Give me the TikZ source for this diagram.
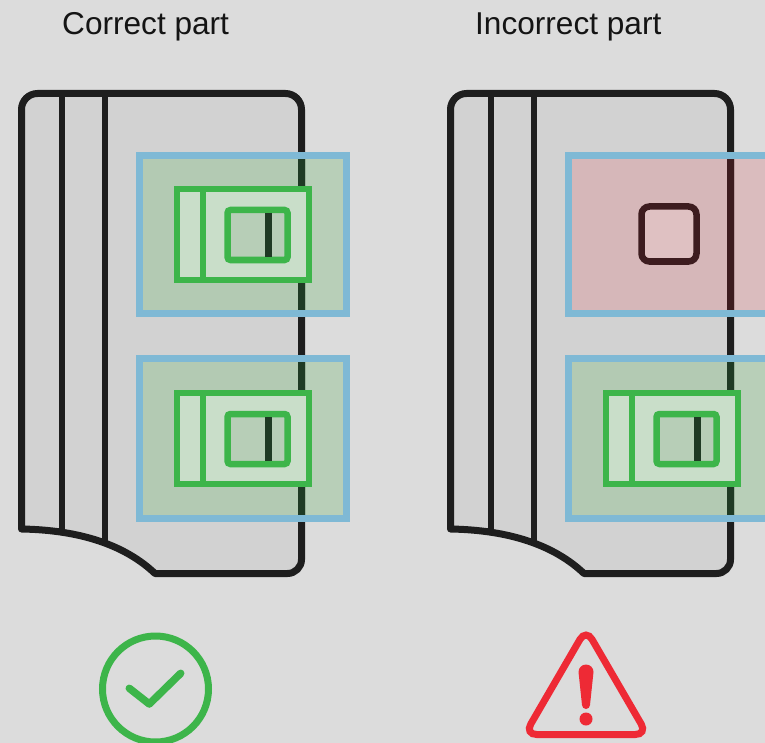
\documentclass[tikz,border=0pt]{standalone}
\usepackage{fontspec}
\setmainfont{Liberation Sans}
\definecolor{bg}{HTML}{DCDCDC}
\definecolor{bodygray}{HTML}{D2D2D2}
\definecolor{ink}{HTML}{1E1E1E}
\definecolor{zoneblue}{HTML}{7FB9D5}
\definecolor{okgreen}{HTML}{3DB54A}
\definecolor{switchfill}{HTML}{C9DEC9}
\definecolor{innerfill}{HTML}{B7CEB7}
\definecolor{darkgreen}{HTML}{1F3A24}
\definecolor{greentint}{HTML}{96C496}
\definecolor{redtint}{HTML}{DA9EA2}
\definecolor{padfill}{HTML}{DFC1C2}
\definecolor{darkred}{HTML}{3D1C1F}
\definecolor{warnred}{HTML}{EE2A35}
\tikzset{
  bodyshape/.style={insert path={
    (21.5,529) -- (21.5,109.5) arc (180:270:16) -- (285.5,93.5) arc (270:360:16)
    -- (301.5,559.5) arc (0:90:14) -- (155,573.5)
    .. controls (125,545) and (80,530) .. (21.5,529) -- cycle}},
  outline/.style={draw=ink, line width=7pt, line join=round},
  ribline/.style={draw=ink, line width=6pt},
  zonefill/.style={fill=greentint, fill opacity=.5},
  badfill/.style={fill=redtint, fill opacity=.5},
  zoneframe/.style={draw=zoneblue, line width=7pt},
  switchframe/.style={draw=okgreen, line width=6.5pt, fill=switchfill},
  switchwin/.style={draw=okgreen, line width=6.5pt, fill=innerfill, rounded corners=3pt},
  switchbar/.style={draw=darkgreen, line width=6.5pt},
  pad/.style={draw=darkred, line width=6.5pt, fill=padfill, rounded corners=8pt},
  title/.style={anchor=base west, inner sep=0pt, text=black!92,
    font=\fontsize{31.6}{38}\selectfont},
}
% housing of one part: grey body, two ribs, black outline
\newcommand\partbody{%
  \fill[bodygray, bodyshape];
  \begin{scope}
    \clip[bodyshape];
    \draw[ribline] (62,80) -- (62,600);
    \draw[ribline] (104.5,80) -- (104.5,600);
  \end{scope}
  \draw[outline, bodyshape];
}
% housing edge seen through a tinted zone (#1 top, #2 bottom, #3 colour)
\newcommand\edgethrough[3]{%
  \begin{scope}
    \clip (139.5,#1) rectangle (346.5,#2);
    \draw[outline, draw=#3, bodyshape];
  \end{scope}
}
% green switch contact, moved down by #1
\newcommand\contact[1]{%
  \begin{scope}[yshift=-#1pt]
    \draw[switchframe] (177,189) rectangle (309,280);
    \draw[draw=okgreen, line width=6.5pt] (203,189) -- (203,280);
    \draw[switchwin] (227.5,210) rectangle (287.5,260);
    \draw[switchbar] (268.5,213) -- (268.5,257);
  \end{scope}
}
\begin{document}
\begin{tikzpicture}[x=1pt,y=-1pt]
\useasboundingbox (0,0) rectangle (765,743);
\fill[bg] (0,0) rectangle (765,743);
\clip (0,0) rectangle (765,743);

\node[title] (lefttitle) at (62,34.5) {Correct part};
\node[title] (righttitle) at (475,34.5) {Incorrect part};

% ---- correct part ----
\partbody
\fill[zonefill] (139.5,155.5) rectangle (346.5,313.5);
\fill[zonefill] (139.5,358.5) rectangle (346.5,518);
\edgethrough{155.5}{313.5}{darkgreen}
\edgethrough{358.5}{518}{darkgreen}
\contact{0}
\contact{204}
\draw[zoneframe] (139.5,155.5) rectangle (346.5,313.5);
\draw[zoneframe] (139.5,358.5) rectangle (346.5,518);

% ---- incorrect part ----
\begin{scope}[xshift=429pt]
  \partbody
  \fill[badfill] (139.5,155.5) rectangle (346.5,313.5);
  \fill[zonefill] (139.5,358.5) rectangle (346.5,518);
  \edgethrough{155.5}{313.5}{darkred}
  \edgethrough{358.5}{518}{darkgreen}
  \draw[pad] (212.5,206.5) rectangle (267.5,261.5);
  \contact{204}
  \draw[zoneframe] (139.5,155.5) rectangle (346.5,313.5);
  \draw[zoneframe] (139.5,358.5) rectangle (346.5,518);
\end{scope}

% ---- verdict icons ----
\node[circle, draw=okgreen, line width=7pt, minimum size=106pt, inner sep=0pt]
  (okmark) at (155.5,689) {};
\draw[okgreen, line width=7.5pt, line cap=round, line join=round]
  (129.3,688.3) -- (149.3,704) -- (180.7,673.3);

\draw[warnred, line width=7pt, rounded corners=12pt]
  (586,629) -- (647.3,734.5) -- (524.7,734.5) -- cycle;
\fill[warnred] (578.5,672) arc (180:360:7.5) -- (590,705) arc (0:180:4) -- cycle;
\fill[warnred] (586,719) circle (6.5pt);
\end{tikzpicture}
\end{document}
